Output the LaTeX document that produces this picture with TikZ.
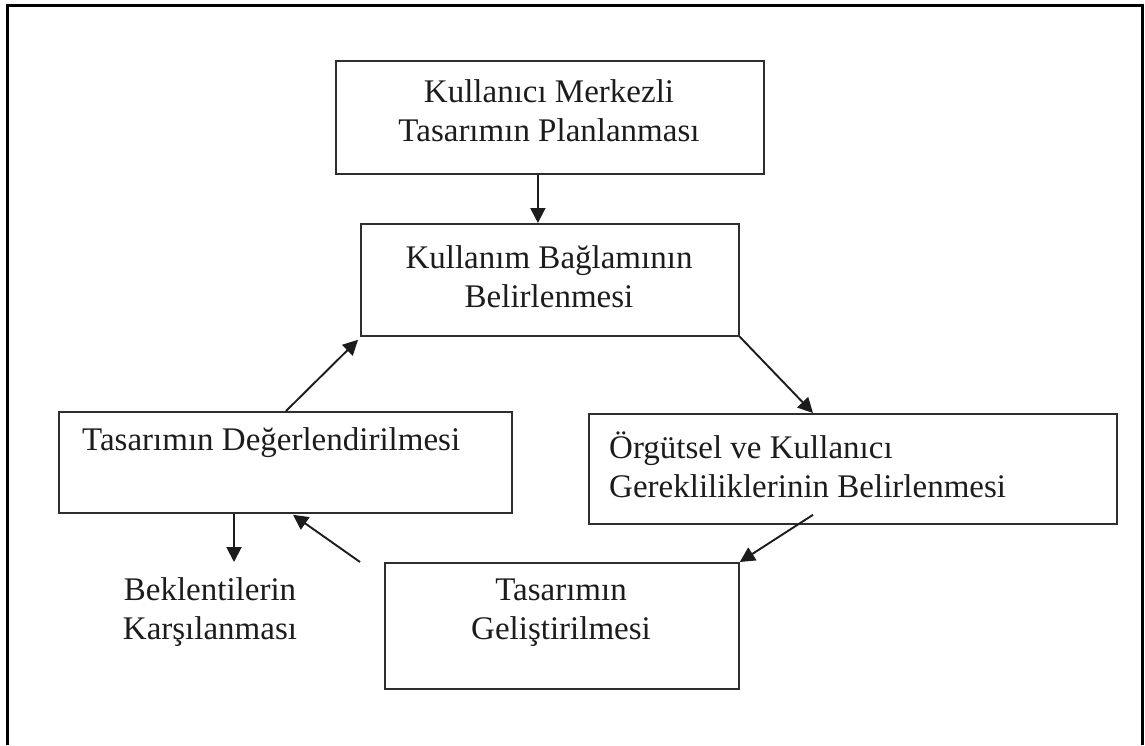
\documentclass[tikz,border=0pt]{standalone}
\usepackage{fontspec}
\setmainfont{Liberation Serif}
\usetikzlibrary{arrows.meta,calc}
\definecolor{boxgray}{HTML}{2E2E2E}
\definecolor{inkgray}{HTML}{1C1C1C}
\begin{document}
\begin{tikzpicture}[x=1pt,y=-1pt,
  box/.style={draw=boxgray,line width=1.8pt,inner sep=0pt,anchor=north west},
  txt/.style={inner sep=0pt,text=inkgray,font=\fontsize{33}{39}\selectfont},
  arr/.style={draw=inkgray,line width=1.9pt,-{Triangle[length=15pt,width=15pt]}},
  frame/.style={draw=black,line width=3pt}]
\useasboundingbox (0,0) rectangle (1145,745);
% outer frame (runs past the lower edge)
\draw[frame] (7,745) -- (7,5) -- (1142,5) -- (1142,745);

% process boxes
\node[box,minimum width=428pt,minimum height=113pt] (b1) at (335,60) {};
\node[box,minimum width=378pt,minimum height=112pt] (b2) at (360,223) {};
\node[box,minimum width=453pt,minimum height=101pt] (b3) at (58,411) {};
\node[box,minimum width=528pt,minimum height=110pt] (b4) at (588,413) {};
\node[box,minimum width=354pt,minimum height=126pt] (b5) at (384,562) {};

% labels
\node[txt,align=center] (t1) at (549,111) {Kullanıcı Merkezli\\Tasarımın Planlanması};
\node[txt,align=center] (t2) at (549,277) {Kullanım Bağlamının\\Belirlenmesi};
\node[txt,anchor=west] (t3) at (82,443) {Tasarımın Değerlendirilmesi};
\node[txt,anchor=west,align=left] (t4) at (609,465) {Örgütsel ve Kullanıcı\\Gerekliliklerinin Belirlenmesi};
\node[txt,align=center] (t5) at (561,613) {Tasarımın\\Geliştirilmesi};
\node[txt,align=center] (t6) at (210,612) {Beklentilerin\\Karşılanması};
\coordinate (kend) at (234,562);

% flow
\draw[arr] ([xshift=-12pt]b1.south) -- ([xshift=-12pt]b1.south |- b2.north);
\draw[arr] ($(b3.north west)+(228,0)$) -- ($(b2.south west)+(-2,3)$);
\draw[arr] (b2.south east) -- ($(b4.north west)+(225,0)$);
\draw[arr] ($(b4.south west)+(225,-10)$) -- (b5.north east);
\draw[arr] ($(b5.north west)+(-24,0)$) -- ($(b3.south west)+(235,1)$);
\draw[arr] ($(b3.south west)+(176,0)$) -- (kend);
\end{tikzpicture}
\end{document}
